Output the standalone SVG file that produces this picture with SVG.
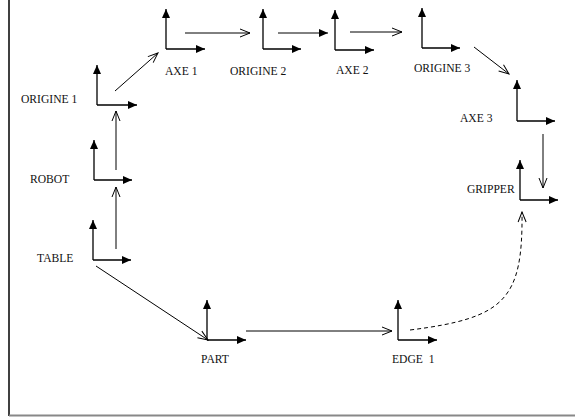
<svg xmlns="http://www.w3.org/2000/svg" width="575" height="418" viewBox="0 0 575 418">
<defs>
<style>
.ax{stroke:#000;stroke-width:1.3;fill:none;marker-end:url(#fa)}
.cn{stroke:#000;stroke-width:1;fill:none}
.op{marker-end:url(#oa)}
.fl{marker-end:url(#fa)}
.dash{stroke-dasharray:4 3}
text{font-family:"Liberation Serif","Times New Roman",serif;font-size:11.6px;fill:#111}
</style>
<marker id="fa" viewBox="0 0 9 8" refX="9" refY="4" markerWidth="9" markerHeight="8" markerUnits="userSpaceOnUse" orient="auto">
<path d="M0,0 L9,4 L0,8 z" fill="#000"/>
</marker>
<marker id="oa" viewBox="-1 -1 12 10" refX="10" refY="4" markerWidth="12" markerHeight="10" markerUnits="userSpaceOnUse" orient="auto">
<path d="M0,0 L10,4 L0,8" fill="none" stroke="#000" stroke-width="1"/>
</marker>
</defs>
<rect x="0" y="0" width="575" height="418" fill="#fff"/>
<g id="border">
<line x1="9" y1="0" x2="9" y2="416" stroke="#000" stroke-width="1.5"/>
<line x1="9" y1="415.5" x2="575" y2="415.5" stroke="#888" stroke-width="2"/>
</g>
<g id="origine1">
<line class="ax" x1="97" y1="105" x2="97" y2="65"/><line class="ax" x1="97" y1="105" x2="137" y2="105"/>
<text x="21" y="103">ORIGINE 1</text>
</g>
<g id="axe1">
<line class="ax" x1="166" y1="49" x2="166" y2="9"/><line class="ax" x1="166" y1="49" x2="205" y2="49"/>
<text x="165" y="75">AXE 1</text>
</g>
<g id="origine2">
<line class="ax" x1="263" y1="49" x2="263" y2="9"/><line class="ax" x1="263" y1="49" x2="301" y2="49"/>
<text x="230" y="75">ORIGINE 2</text>
</g>
<g id="axe2">
<line class="ax" x1="335" y1="50" x2="335" y2="10"/><line class="ax" x1="335" y1="50" x2="374" y2="50"/>
<text x="336" y="74">AXE 2</text>
</g>
<g id="origine3">
<line class="ax" x1="422" y1="48" x2="422" y2="8"/><line class="ax" x1="422" y1="48" x2="460" y2="48"/>
<text x="414" y="72">ORIGINE 3</text>
</g>
<g id="axe3">
<line class="ax" x1="517" y1="121" x2="517" y2="80"/><line class="ax" x1="517" y1="121" x2="555" y2="121"/>
<text x="460" y="122">AXE 3</text>
</g>
<g id="gripper">
<line class="ax" x1="520" y1="200" x2="520" y2="160"/><line class="ax" x1="520" y1="200" x2="558" y2="200"/>
<text x="467" y="193">GRIPPER</text>
</g>
<g id="robot">
<line class="ax" x1="94" y1="180" x2="94" y2="140"/><line class="ax" x1="94" y1="180" x2="132" y2="180"/>
<text x="30" y="183">ROBOT</text>
</g>
<g id="table">
<line class="ax" x1="93" y1="260" x2="93" y2="220"/><line class="ax" x1="93" y1="260" x2="131" y2="260"/>
<text x="37" y="262">TABLE</text>
</g>
<g id="part">
<line class="ax" x1="207" y1="340" x2="207" y2="300"/><line class="ax" x1="207" y1="340" x2="246" y2="340"/>
<text x="201" y="363">PART</text>
</g>
<g id="edge1">
<line class="ax" x1="398" y1="340" x2="398" y2="300"/><line class="ax" x1="398" y1="340" x2="437" y2="340"/>
<text x="392" y="363" word-spacing="3">EDGE 1</text>
</g>
<g id="connectors">
<line class="cn op" x1="116" y1="249" x2="116" y2="187"/>
<line class="cn op" x1="116" y1="170" x2="116" y2="111"/>
<line class="cn op" x1="115" y1="91" x2="158" y2="53"/>
<line class="cn op" x1="185" y1="33" x2="250" y2="33"/>
<line class="cn fl" x1="278" y1="33" x2="328" y2="33"/>
<line class="cn op" x1="350" y1="32" x2="402" y2="32"/>
<line class="cn op" x1="474" y1="47" x2="509" y2="74"/>
<line class="cn op" x1="543" y1="134" x2="543" y2="188"/>
<line class="cn op" x1="96" y1="266" x2="208" y2="340"/>
<line class="cn op" x1="246" y1="331" x2="392" y2="331"/>
<path class="cn op dash" d="M410,330 C505,318 523,300 522,212"/>
</g>
</svg>
